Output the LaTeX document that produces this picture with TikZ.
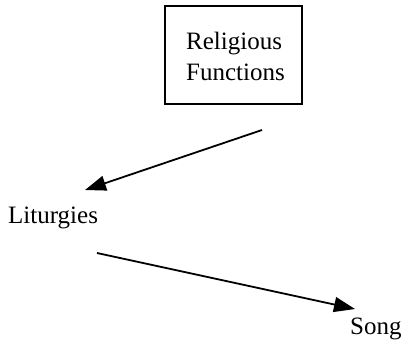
\documentclass[tikz,border=0pt]{standalone}
\usepackage{fontspec}
\setmainfont{Liberation Serif}
\usetikzlibrary{arrows.meta}
\begin{document}
\begin{tikzpicture}[x=1pt,y=-1pt,
  lbl/.style={anchor=base west, inner sep=0pt, font=\fontsize{25}{30}\selectfont},
  conn/.style={line width=1.8pt, -{Triangle[length=21pt,width=15pt]}},
  frame/.style={draw, line width=1.8pt, inner sep=0pt}]
\useasboundingbox (0,0) rectangle (409,340);
\node[frame, minimum width=137pt, minimum height=98pt] (box) at (233.5,55) {};
\node[lbl] (rel) at (186,49) {Religious};
\node[lbl] (fun) at (186,80) {Functions};
\node[lbl] (lit) at (8,223) {Liturgies};
\node[lbl] (song) at (350,334) {Song};
\coordinate (a1s) at (262,130);
\coordinate (a1e) at (85,190);
\coordinate (a2s) at (97,253);
\coordinate (a2e) at (355,309);
\draw[conn] (a1s) -- (a1e);
\draw[conn] (a2s) -- (a2e);
\end{tikzpicture}
\end{document}
